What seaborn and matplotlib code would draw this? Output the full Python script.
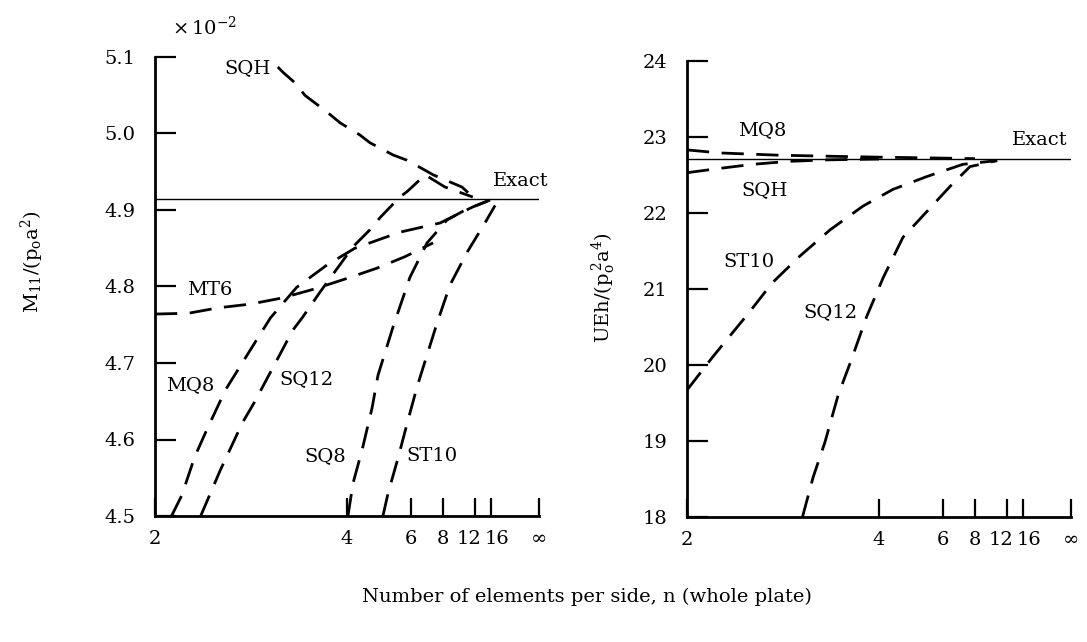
import matplotlib
matplotlib.use("Agg")
import matplotlib.pyplot as plt
import matplotlib.transforms as mtransforms
import pandas as pd
import seaborn as sns

# ---- left panel: M11/(p0 a^2), in units of 1e-2 ----
exact_m = 4.914

sqh_m_n = [2.94, 3.0, 3.15, 3.28, 3.64, 3.86, 4.29, 4.54, 5.26, 5.82, 6.74, 7.25, 9.97, 11.6]
sqh_m_v = [5.087, 5.080, 5.066, 5.050, 5.027, 5.014, 4.998, 4.988, 4.972, 4.965, 4.952, 4.946, 4.930, 4.917]

mt6_m_n = [2.0, 2.19, 2.39, 2.66, 2.99, 3.43, 4.02, 4.74, 5.73, 7.25]
mt6_m_v = [4.764, 4.765, 4.772, 4.777, 4.785, 4.797, 4.811, 4.824, 4.839, 4.857]

mq8_m_n = [2.09, 2.15, 2.23, 2.31, 2.45, 2.66, 2.86, 3.17, 3.62, 4.17, 5.52, 7.76, 11.6, 15.7]
mq8_m_v = [4.500, 4.527, 4.577, 4.612, 4.665, 4.717, 4.759, 4.799, 4.828, 4.850, 4.871, 4.883, 4.904, 4.913]

sq12_m_n = [2.27, 2.41, 2.59, 2.70, 2.86, 3.12, 3.25, 3.51, 3.62, 4.13, 4.54, 4.83, 5.52, 5.82, 6.56, 6.74, 8.17, 11.6]
sq12_m_v = [4.500, 4.560, 4.622, 4.649, 4.688, 4.743, 4.760, 4.793, 4.805, 4.852, 4.874, 4.890, 4.917, 4.924, 4.942, 4.946, 4.930, 4.917]

sq8_m_n = [4.02, 4.13, 4.34, 4.60, 4.77, 5.26, 5.95, 6.86, 8.35, 10.4, 15.7]
sq8_m_v = [4.500, 4.543, 4.586, 4.641, 4.684, 4.747, 4.812, 4.857, 4.887, 4.900, 4.913]

st10_m_n = [4.92, 5.09, 5.45, 5.86, 6.30, 7.53, 8.63, 10.7, 14.2, 17.5]
st10_m_v = [4.500, 4.530, 4.576, 4.625, 4.669, 4.752, 4.802, 4.845, 4.883, 4.906]

# ---- right panel: UEh/(p0^2 a^4) ----
exact_u = 22.71

mq8_u_n = [2.0, 2.19, 2.64, 3.28, 3.96, 5.45, 8.0]
mq8_u_v = [22.83, 22.79, 22.76, 22.745, 22.735, 22.725, 22.715]

sqh_u_n = [2.0, 2.16, 2.41, 2.73, 3.19, 4.0]
sqh_u_v = [22.53, 22.58, 22.64, 22.68, 22.70, 22.71]

st10_u_n = [2.0, 2.145, 2.39, 2.57, 2.83, 3.19, 3.69, 4.31, 5.33, 7.1, 10.4]
st10_u_v = [19.67, 20.11, 20.70, 21.08, 21.43, 21.78, 22.09, 22.31, 22.48, 22.64, 22.69]

sq12_u_n = [2.86, 2.98, 3.12, 3.30, 3.48, 3.76, 4.09, 4.57, 5.33, 6.35, 7.6, 10.4]
sq12_u_v = [18.00, 18.53, 18.98, 19.61, 20.03, 20.64, 21.15, 21.68, 22.02, 22.35, 22.61, 22.69]

tick_n = [2, 4, 6, 8, 12, 16]
tick_labels = ["2", "4", "6", "8", "12", "16", "\u221e"]
m_ticks = [4.5, 4.6, 4.7, 4.8, 4.9, 5.0, 5.1]
u_ticks = [18, 19, 20, 21, 22, 23, 24]


def frame(curves):
    rows = []
    for name, (ns, vs) in curves.items():
        for n, v in zip(ns, vs):
            rows.append((name, 1.0 / n, v))
    return pd.DataFrame(rows, columns=["curve", "inv_n", "value"])


left_df = frame({
    "SQH": (sqh_m_n, sqh_m_v),
    "MT6": (mt6_m_n, mt6_m_v),
    "MQ8": (mq8_m_n, mq8_m_v),
    "SQ12": (sq12_m_n, sq12_m_v),
    "SQ8": (sq8_m_n, sq8_m_v),
    "ST10": (st10_m_n, st10_m_v),
})
right_df = frame({
    "MQ8": (mq8_u_n, mq8_u_v),
    "SQH": (sqh_u_n, sqh_u_v),
    "ST10": (st10_u_n, st10_u_v),
    "SQ12": (sq12_u_n, sq12_u_v),
})

sns.set_theme(style="ticks")
plt.rcParams["font.family"] = ["DejaVu Serif"]
plt.rcParams["mathtext.fontset"] = "dejavuserif"
plt.rcParams["text.color"] = "black"
plt.rcParams["axes.edgecolor"] = "black"

W, H = 1087, 642
fig = plt.figure(figsize=(W / 100, H / 100), dpi=100)
ax1 = fig.add_axes([155 / W, 1 - 516 / H, 384 / W, 459 / H])
ax2 = fig.add_axes([687 / W, 1 - 517 / H, 384 / W, 456 / H])


def draw_panel(ax, df, exact, yticks, yfmt):
    sns.lineplot(data=df, x="inv_n", y="value", units="curve", estimator=None,
                 sort=False, color="black", lw=2.0, linestyle=(0, (8, 4.5)),
                 legend=False, ax=ax)
    ax.axhline(exact, color="black", lw=1.0)
    ax.set_xlim(0.5, 0)
    ax.set_ylim(yticks[0], yticks[-1])
    ax.set_xticks([1.0 / n for n in tick_n] + [0.0])
    ax.set_xticklabels(tick_labels)
    ax.set_yticks(yticks)
    ax.set_yticklabels([yfmt.format(t) for t in yticks])
    ax.set_xlabel("")
    ax.set_ylabel("")
    sns.despine(ax=ax)
    for s in ("left", "bottom"):
        ax.spines[s].set_linewidth(2.0)
        ax.spines[s].set_color("black")
    ax.tick_params(axis="y", direction="in", length=15, width=1.6,
                   labelsize=14, pad=14, colors="black")
    ax.tick_params(axis="x", direction="in", length=13, width=1.6,
                   labelsize=14, pad=10, colors="black")
    labs = ax.get_xticklabels()
    for i, dx in ((4, -6), (5, 6)):
        labs[i].set_transform(labs[i].get_transform() +
                              mtransforms.ScaledTranslation(dx / 100, 0, fig.dpi_scale_trans))


draw_panel(ax1, left_df, exact_m, m_ticks, "{:.1f}")
draw_panel(ax2, right_df, exact_u, u_ticks, "{:d}")


def label(x, y, s, **kw):
    fig.text(x / W, 1 - y / H, s, ha="center", va="center", fontsize=14,
             color="black", **kw)


label(205, 27, r"$\times\,10^{-2}$")
label(248, 68, "SQH")
label(521, 181, "Exact")
label(210, 290, "MT6")
label(190, 385, "MQ8")
label(306, 379, "SQ12")
label(325, 456, "SQ8")
label(432, 456, "ST10")

label(762, 130, "MQ8")
label(1040, 140, "Exact")
label(765, 190, "SQH")
label(749, 262, "ST10")
label(830, 312, "SQ12")

label(32, 262, r"$\mathrm{M_{11}/(p_o a^2)}$", rotation=90)
label(604, 288, r"$\mathrm{UEh/(p_o^{\,2}a^4)}$", rotation=90)
label(587, 597, "Number of elements per side, n (whole plate)")

fig.savefig("out.png", dpi=100)
